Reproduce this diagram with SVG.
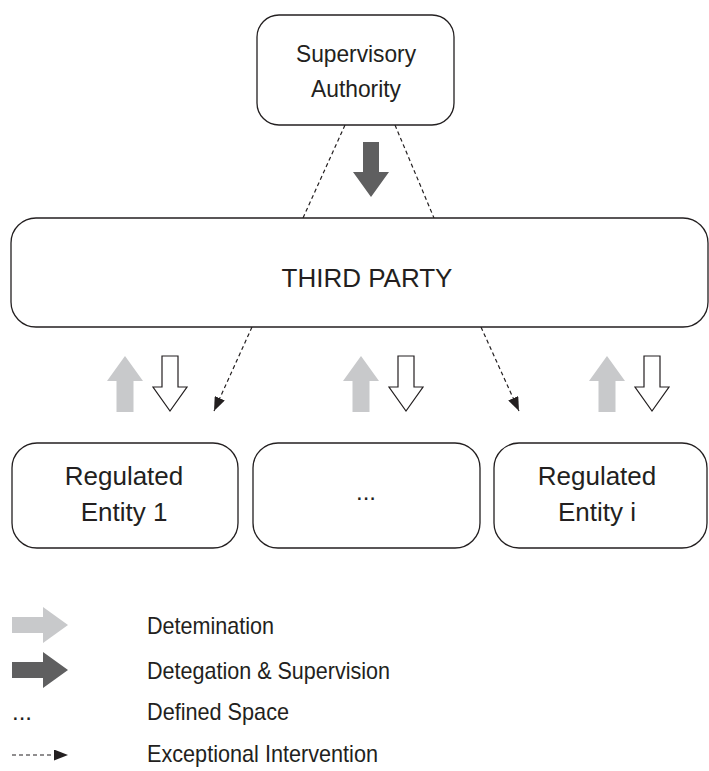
<svg xmlns="http://www.w3.org/2000/svg" width="709" height="771" viewBox="0 0 709 771">
<style>
.box{fill:#fff;stroke:#231f20;stroke-width:1.3}
.t{font-family:"Liberation Sans",Arial,sans-serif;fill:#231f20;text-anchor:middle}
.lt{font-family:"Liberation Sans",Arial,sans-serif;fill:#231f20;font-size:24px}
.dash{stroke:#231f20;stroke-width:1.2;stroke-dasharray:4 3;fill:none}
.light{fill:#c8c9cb}
.dark{fill:#5f5f60}
.hollow{fill:#fff;stroke:#231f20;stroke-width:1.2}
</style>
<defs>
<marker id="ah" viewBox="0 0 14 11" refX="14" refY="5.5" markerWidth="14" markerHeight="11" markerUnits="userSpaceOnUse" orient="auto">
<path d="M0,0 L14,5.5 L0,11 z" fill="#231f20"/>
</marker>
<path id="up" d="M-8.5,56 L-8.5,25 L-18,25 L0,0 L18,25 L8.5,25 L8.5,56 z"/>
<path id="down" d="M-8,0 L8,0 L8,31 L17,31 L0,55 L-17,31 L-8,31 z"/>
</defs>

<g id="connectors">
<line class="dash" x1="345" y1="125" x2="303" y2="218"/>
<line class="dash" x1="395" y1="125" x2="434" y2="218"/>
<line class="dash" x1="252" y1="327" x2="214" y2="411" marker-end="url(#ah)"/>
<line class="dash" x1="481" y1="327" x2="519" y2="411" marker-end="url(#ah)"/>
<path class="dark" d="M363,142 L379,142 L379,172 L389,172 L371,197 L353,172 L363,172 z"/>
<use href="#up" class="light" x="125" y="356"/>
<use href="#up" class="light" x="361" y="356"/>
<use href="#up" class="light" x="607" y="356"/>
<use href="#down" class="hollow" x="170" y="356"/>
<use href="#down" class="hollow" x="406" y="356"/>
<use href="#down" class="hollow" x="652" y="356"/>
</g>

<g id="supervisory-authority">
<rect class="box" x="257" y="15" width="197" height="110" rx="22"/>
<text class="t" x="356" y="62" font-size="24" textLength="120" lengthAdjust="spacingAndGlyphs">Supervisory</text>
<text class="t" x="356" y="97" font-size="24" textLength="90" lengthAdjust="spacingAndGlyphs">Authority</text>
</g>

<g id="third-party">
<rect class="box" x="11" y="218" width="697" height="109" rx="25"/>
<text class="t" x="367" y="287" font-size="26">THIRD PARTY</text>
</g>

<g id="entity-1">
<rect class="box" x="12" y="443" width="226" height="105" rx="25"/>
<text class="t" x="124" y="485" font-size="26">Regulated</text>
<text class="t" x="124" y="521" font-size="26">Entity 1</text>
</g>

<g id="entity-dots">
<rect class="box" x="253" y="443" width="227" height="105" rx="25"/>
<text class="t" x="366" y="500" font-size="24">...</text>
</g>

<g id="entity-i">
<rect class="box" x="494" y="443" width="213" height="105" rx="25"/>
<text class="t" x="597" y="485" font-size="26">Regulated</text>
<text class="t" x="597" y="521" font-size="26">Entity i</text>
</g>

<g id="legend">
<path class="light" d="M12,617 L43,617 L43,607 L68,625 L43,643 L43,633 L12,633 z"/>
<path class="dark" d="M12,662 L43,662 L43,652 L68,670 L43,688 L43,678 L12,678 z"/>
<text class="lt" x="12" y="720">...</text>
<line class="dash" x1="12" y1="755" x2="68" y2="755" stroke-dasharray="3 2" marker-end="url(#ah)"/>
<text class="lt" x="147" y="634" textLength="127" lengthAdjust="spacingAndGlyphs">Detemination</text>
<text class="lt" x="147" y="679" textLength="243" lengthAdjust="spacingAndGlyphs">Detegation &amp; Supervision</text>
<text class="lt" x="147" y="720" textLength="142" lengthAdjust="spacingAndGlyphs">Defined Space</text>
<text class="lt" x="147" y="762" textLength="231" lengthAdjust="spacingAndGlyphs">Exceptional Intervention</text>
</g>
</svg>
